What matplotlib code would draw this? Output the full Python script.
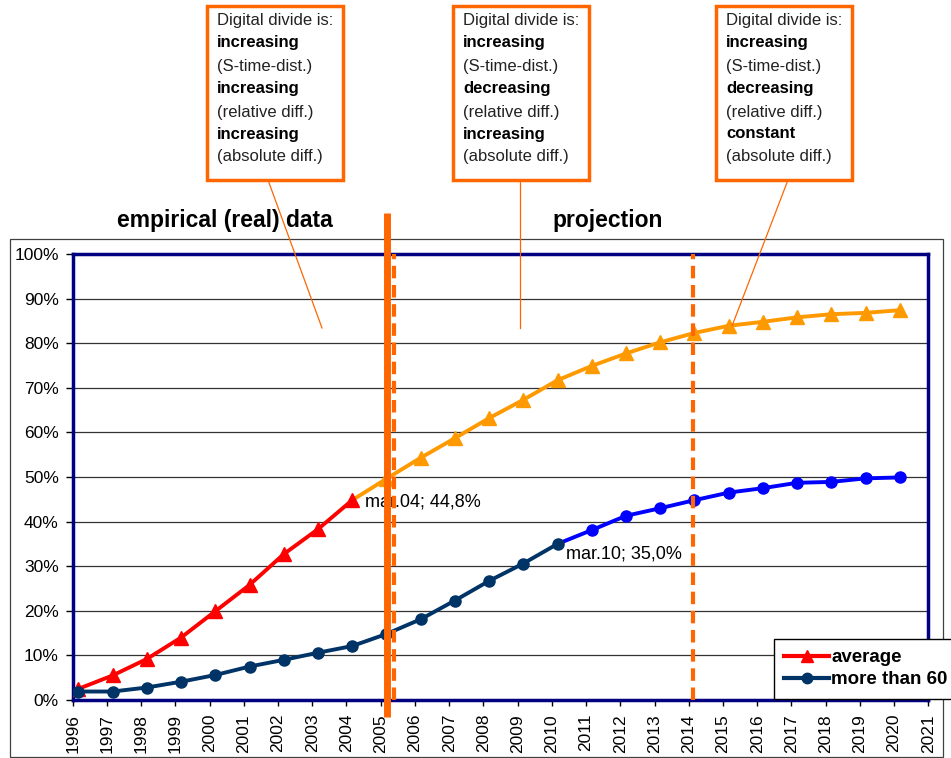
import matplotlib.pyplot as plt
from matplotlib.lines import Line2D
from matplotlib.patches import Rectangle

plt.rcParams['font.family'] = ['Liberation Sans', 'DejaVu Sans']

W, H = 951, 758

# internet users in % of population, measured each March
years_avg_real = [1996, 1997, 1998, 1999, 2000, 2001, 2002, 2003, 2004]
avg_real = [2.5, 5.5, 9.2, 14.0, 19.9, 25.8, 32.7, 38.3, 44.8]

years_avg_proj = [2004, 2005, 2006, 2007, 2008, 2009, 2010, 2011, 2012,
                  2013, 2014, 2015, 2016, 2017, 2018, 2019, 2020]
avg_proj = [44.8, 49.6, 54.3, 58.7, 63.2, 67.3, 71.7, 74.9, 77.7,
            80.2, 82.3, 83.9, 84.8, 85.8, 86.5, 86.8, 87.4]

years_old_real = [1996, 1997, 1998, 1999, 2000, 2001, 2002, 2003, 2004,
                  2005, 2006, 2007, 2008, 2009, 2010]
old_real = [1.9, 1.9, 2.8, 4.1, 5.6, 7.5, 9.0, 10.6, 12.1,
            14.8, 18.1, 22.3, 26.7, 30.6, 35.0]

years_old_proj = [2010, 2011, 2012, 2013, 2014, 2015, 2016, 2017, 2018, 2019, 2020]
old_proj = [35.0, 38.1, 41.3, 43.0, 44.8, 46.5, 47.5, 48.7, 48.9, 49.7, 49.9]

year_ticks = list(range(1996, 2022))
pct_ticks = [0, 10, 20, 30, 40, 50, 60, 70, 80, 90, 100]

# text of the three comment boxes (bold lines are the verdicts)
box_lines = [
    ["Digital divide is:", "increasing", "(S-time-dist.)", "increasing",
     "(relative diff.)", "increasing", "(absolute diff.)"],
    ["Digital divide is:", "increasing", "(S-time-dist.)", "decreasing",
     "(relative diff.)", "increasing", "(absolute diff.)"],
    ["Digital divide is:", "increasing", "(S-time-dist.)", "decreasing",
     "(relative diff.)", "constant", "(absolute diff.)"],
]

MARCH = 2 / 12.0
ORANGE = '#FF6600'


def fx(x):
    return x / W


def fy(y):
    return 1 - y / H


def pct_label(month, value):
    # "mar.04; 44,8%" - decimal comma in the value
    return f"{month}; " + f"{value:.1f}".replace('.', ',') + "%"


fig = plt.figure(figsize=(W / 100, H / 100), dpi=100)
fig.patch.set_facecolor('white')

ax = fig.add_axes([fx(72.7), fy(700), (928.3 - 72.7) / W, (700 - 254) / H])
ax.set_xlim(1996, 2021)
ax.set_ylim(0, 100)

ax.set_yticks(pct_ticks)
ax.set_yticklabels([f'{p}%' for p in pct_ticks])
ax.set_xticks(year_ticks)
ax.set_xticklabels([str(y) for y in year_ticks], rotation=90)
ax.tick_params(axis='y', direction='out', length=5, width=1, pad=5, labelsize=12.5)
ax.tick_params(axis='x', direction='out', length=4, width=1, pad=6, labelsize=12.5)
ax.yaxis.grid(True, color='#333333', lw=0.9)
ax.set_axisbelow(True)
for sp in ax.spines.values():
    sp.set_color('#000080')
    sp.set_linewidth(2.5)

# series
ax.plot([y + MARCH for y in years_avg_proj], avg_proj, color='#FF9900', lw=2.8,
        marker='^', ms=10, markevery=list(range(1, len(avg_proj))), zorder=3)
ax.plot([y + MARCH for y in years_avg_real], avg_real, color='#FF0000', lw=2.8,
        marker='^', ms=10, zorder=3)
ax.plot([y + MARCH for y in years_old_proj], old_proj, color='#0000FF', lw=2.8,
        marker='o', ms=8, markevery=list(range(1, len(old_proj))), zorder=3)
ax.plot([y + MARCH for y in years_old_real], old_real, color='#003366', lw=2.8,
        marker='o', ms=8, zorder=3)

ax.annotate(pct_label('mar.04', avg_real[-1]),
            xy=(years_avg_real[-1] + MARCH, avg_real[-1]), xytext=(9, -1),
            textcoords='offset points', ha='left', va='center', fontsize=13)
ax.annotate(pct_label('mar.10', old_real[-1]),
            xy=(years_old_real[-1] + MARCH, old_real[-1]), xytext=(6, -7),
            textcoords='offset points', ha='left', va='center', fontsize=13)

# split between real data and projection
ax.plot([2005.18, 2005.18], [-0.038, 1.092], transform=ax.get_xaxis_transform(),
        clip_on=False, color=ORANGE, lw=5, solid_capstyle='butt', zorder=5)
ax.plot([2005.39, 2005.39], [0, 100], color=ORANGE, lw=3,
        ls=(0, (3.0, 1.6)), zorder=4)
ax.plot([2014.12, 2014.12], [0, 100], color=ORANGE, lw=3,
        ls=(0, (3.0, 1.6)), zorder=4)

fig.text(fx(225), fy(220), 'empirical (real) data', ha='center', va='center',
         fontsize=16.5, fontweight='bold')
fig.text(fx(608), fy(220), 'projection', ha='center', va='center',
         fontsize=16.5, fontweight='bold')

# comment boxes and their pointer lines
box_left = [207, 453, 716]
pointers = [((268, 180), (322, 328)), ((520, 180), (520, 328)), ((788, 180), (732, 326))]
line_y = [20, 43, 66, 89, 112, 134, 157]
for left, lines, (p0, p1) in zip(box_left, box_lines, pointers):
    fig.add_artist(Rectangle((fx(left), fy(180)), 136 / W, 174 / H,
                             transform=fig.transFigure, fc='white', ec=ORANGE,
                             lw=2.5, zorder=2))
    for i, (txt, yy) in enumerate(zip(lines, line_y)):
        fig.text(fx(left + 10), fy(yy), txt, ha='left', va='center',
                 fontsize=12, fontweight='bold' if i % 2 == 1 else 'normal',
                 color='black' if i % 2 == 1 else '#222222', zorder=3)
    fig.add_artist(Line2D([fx(p0[0]), fx(p1[0])], [fy(p0[1]), fy(p1[1])],
                          transform=fig.transFigure, color=ORANGE, lw=0.9, zorder=6))

# chart area frame
fig.add_artist(Rectangle((fx(10), fy(757)), (943 - 10) / W, (757 - 239) / H,
                         transform=fig.transFigure, fill=False, ec='#404040',
                         lw=0.9, zorder=-1))

handles = [Line2D([], [], color='#FF0000', marker='^', lw=3, ms=9),
           Line2D([], [], color='#003366', marker='o', lw=3, ms=7.5)]
leg = fig.legend(handles, ['average', 'more than 60'], loc='upper left',
                 bbox_to_anchor=(fx(774), fy(639)), bbox_transform=fig.transFigure,
                 borderaxespad=0, fancybox=False, framealpha=1, edgecolor='black',
                 prop={'weight': 'bold', 'size': 13.5}, handlelength=2.4,
                 handletextpad=0.1, borderpad=0.55, labelspacing=0.25)
leg.get_frame().set_linewidth(1)

fig.savefig('out.png', dpi=100)
